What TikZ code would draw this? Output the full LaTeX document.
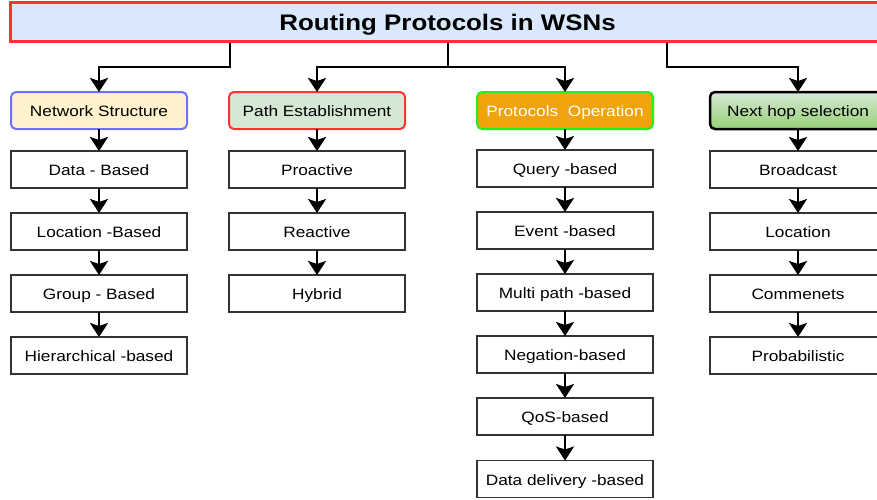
\documentclass[tikz,border=0pt]{standalone}
\usepackage{fontspec}
\setmainfont{Liberation Sans}[FakeStretch=1.15]
\usepackage{tikz}
\usetikzlibrary{positioning, arrows.meta}

\definecolor{titlefill}{HTML}{DAE8FC}
\definecolor{redline}{HTML}{FF3333}
\definecolor{nsfill}{HTML}{FFF2CC}
\definecolor{nsline}{HTML}{7070FF}
\definecolor{pefill}{HTML}{D5E8D4}
\definecolor{pofill}{HTML}{F0A30A}
\definecolor{poline}{HTML}{22EE22}
\definecolor{nhtop}{HTML}{D5E8D4}
\definecolor{nhbottom}{HTML}{97D077}

\tikzset{
	sub/.style={draw=black!80, line width=1.2pt, fill=white, minimum width=176pt,
		minimum height=37pt, inner sep=0pt, outer sep=0pt, text height=13pt, text depth=0.5pt,
		font=\fontsize{15}{18}\selectfont},
	cat/.style={sub, rounded corners=5pt, line width=2pt},
	arr/.style={-{Stealth[length=14pt, width=18pt, inset=3pt]}, line width=2.5pt},
}

\begin{document}
\begin{tikzpicture}[x=1pt, y=-1pt, node distance=25pt]
		\useasboundingbox (0,0) rectangle (877,499);
		
		\node[draw=redline, line width=3pt, fill=titlefill, minimum width=875pt, minimum height=39pt,
		inner sep=0pt, text height=19pt, text depth=1pt,
		font=\bfseries\fontsize{22.5}{27}\selectfont] (title) at (447.5,21.5) {Routing Protocols in WSNs};
		
		% categories
		\node[cat, draw=nsline, fill=nsfill] (ns) at (99,110.5) {Network Structure};
		\node[cat, draw=redline, fill=pefill] (pe) at (317,110.5) {Path Establishment};
		\node[cat, draw=poline, fill=pofill, text=white] (po) at (565,110.5) {Protocols~~Operation};
		\node[cat, draw=black, line width=2.5pt, top color=nhtop, bottom color=nhbottom] (nh) at (798,110.5) {Next hop selection};
		
		% network structure
		\node[sub, below=22pt of ns] (ns1) {Data - Based};
		\node[sub, below=of ns1] (ns2) {Location -Based};
		\node[sub, below=of ns2] (ns3) {Group - Based};
		\node[sub, below=of ns3] (ns4) {Hierarchical -based};
		
		% path establishment
		\node[sub, below=22pt of pe] (pe1) {Proactive};
		\node[sub, below=of pe1] (pe2) {Reactive};
		\node[sub, below=of pe2] (pe3) {Hybrid};
		
		% protocols operation
		\node[sub, below=21pt of po] (po1) {Query -based};
		\node[sub, below=of po1] (po2) {Event -based};
		\node[sub, below=of po2] (po3) {Multi path -based};
		\node[sub, below=of po3] (po4) {Negation-based};
		\node[sub, below=of po4] (po5) {QoS-based};
		\node[sub, below=25.5pt of po5] (po6) {Data delivery -based};
		
		% next hop selection
		\node[sub, below=22pt of nh] (nh1) {Broadcast};
		\node[sub, below=of nh1] (nh2) {Location};
		\node[sub, below=of nh2] (nh3) {Commenets};
		\node[sub, below=of nh3] (nh4) {Probabilistic};
		
		% branches from the title
		\coordinate (j1) at (230,67);
		\coordinate (j2) at (448,67);
		\coordinate (j3) at (667,67);
		\draw[arr] (title.south -| j1) -- (j1) -| (ns.north);
		\draw[arr] (title.south -| j2) -- (j2) -| (pe.north);
		\draw[arr] (j2) -| (po.north);
		\draw[arr] (title.south -| j3) -- (j3) -| (nh.north);
		
		\foreach \a/\b in {ns/ns1, ns1/ns2, ns2/ns3, ns3/ns4,
			pe/pe1, pe1/pe2, pe2/pe3,
			po/po1, po1/po2, po2/po3, po3/po4, po4/po5, po5/po6,
			nh/nh1, nh1/nh2, nh2/nh3, nh3/nh4}
		\draw[arr] (\a) -- (\b);
	\end{tikzpicture}
\end{document}
